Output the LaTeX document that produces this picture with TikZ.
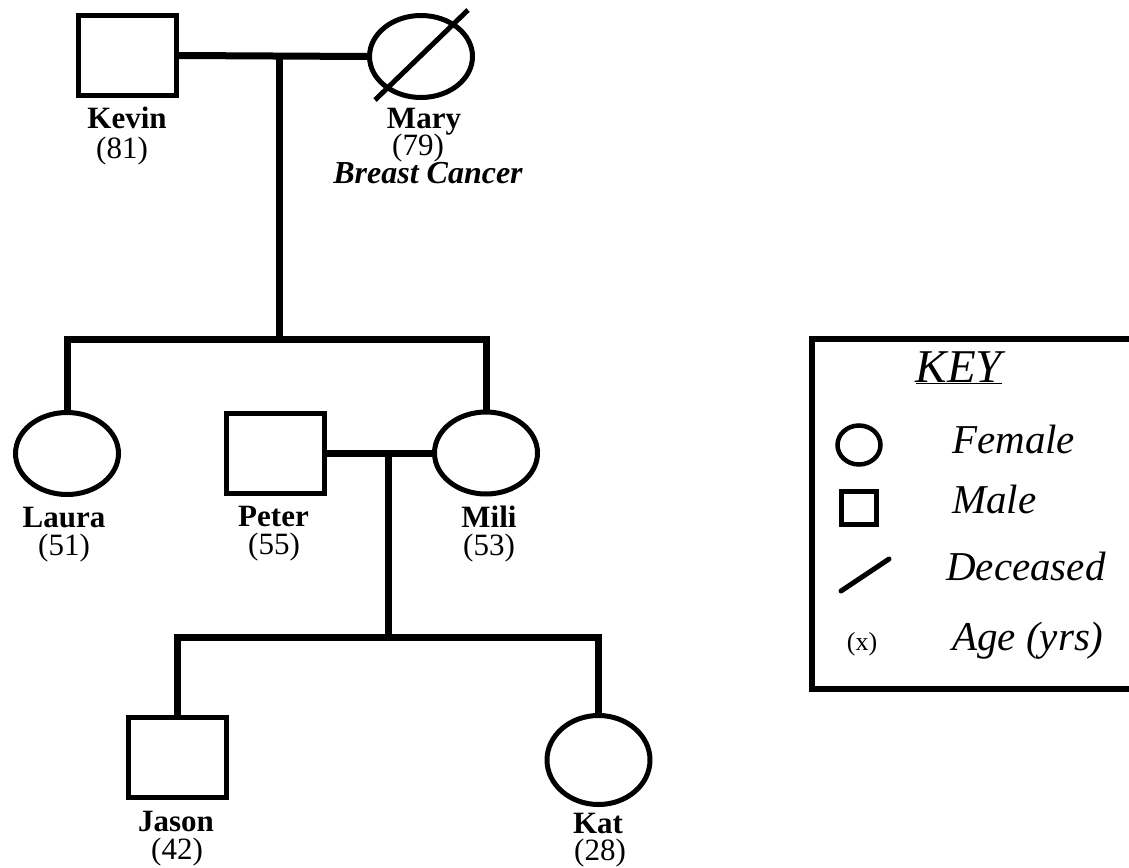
\documentclass[tikz,border=0pt]{standalone}
\usepackage{fontspec}
\setmainfont{Liberation Serif}
\usetikzlibrary{shapes.geometric}

\newcommand*{\namesize}{\fontsize{31}{31}\selectfont}
\newcommand*{\keysize}{\fontsize{41}{41}\selectfont}

\tikzset{
	male/.style={draw,rectangle,line width=5pt,minimum width=98pt,minimum height=80pt,inner sep=0pt},
	female/.style={draw,ellipse,line width=5pt,minimum width=103pt,minimum height=82pt,inner sep=0pt},
	bond/.style={line width=7pt},
	personname/.style={anchor=base,font=\namesize\bfseries,inner sep=0pt},
	personage/.style={anchor=base,font=\namesize,inner sep=0pt},
	keytext/.style={anchor=base west,font=\keysize\itshape,inner sep=0pt},
}

\begin{document}
\begin{tikzpicture}[x=1pt,y=-1pt]

	\fill[white,use as bounding box] (0,0) rectangle (1129,867);

	% grandparents
	\node[male] (kevin) at (127,55.5) {};
	\node[female] (mary) at (421,56.5) {};
	\draw[line width=5pt] (375,100) -- (468,10);

	\node[personname] (kevinname) at (127,128) {Kevin};
	\node[personage] (kevinage) at (122,158) {(81)};
	\node[personname] (maryname) at (424,128) {Mary};
	\node[personage] (maryage) at (418,155) {(79)};
	\node[anchor=base,inner sep=0pt,font=\fontsize{32}{32}\selectfont\bfseries\itshape] (maryinfo) at (428,183) {Breast Cancer};

	% children
	\node[female] (laura) at (67,453.5) {};
	\node[male] (peter) at (275.5,453) {};
	\node[female] (mili) at (486,453) {};

	\node[personname] (lauraname) at (64,527) {Laura};
	\node[personage] (lauraage) at (64,555.5) {(51)};
	\node[personname] (petername) at (273.5,526) {Peter};
	\node[personage] (peterage) at (274,554) {(55)};
	\node[personname] (miliname) at (489,527) {Mili};
	\node[personage] (miliage) at (489,555) {(53)};

	% grandchildren
	\node[male] (jason) at (177,757) {};
	\node[female,minimum height=89pt] (kat) at (598.5,760) {};

	\node[personname] (jasonname) at (176,831) {Jason};
	\node[personage] (jasonage) at (177,859) {(42)};
	\node[personname] (katname) at (598,833) {Kat};
	\node[personage] (katage) at (600,860) {(28)};

	% lines of descent
	\coordinate (km) at (279,55.5);
	\coordinate (kmsibs) at (279,339);
	\coordinate (pm) at (388.5,453);
	\coordinate (pmsibs) at (388.5,637);

	\draw[bond] (kevin.east) -- (mary.west);
	\draw[bond] (km) -- (kmsibs);
	\draw[bond] (laura.north) -- (laura.north |- kmsibs) -- (mili.north |- kmsibs) -- (mili.north);

	\draw[bond] (peter.east) -- (mili.west);
	\draw[bond] (pm) -- (pmsibs);
	\draw[bond] (jason.north) -- (jason.north |- pmsibs) -- (kat.north |- pmsibs) -- (kat.north);

	% key
	\draw[line width=6pt] (812,339) rectangle (1145,689);
	\node[anchor=base,inner sep=0pt,font=\fontsize{47}{47}\selectfont\itshape] (keytitle) at (959,382) {\underline{KEY}};

	\node[draw,ellipse,line width=4.5pt,minimum width=43pt,minimum height=39pt,inner sep=0pt] (keyfemale) at (859,445) {};
	\node[draw,rectangle,line width=5pt,minimum width=35pt,minimum height=33pt,inner sep=0pt] (keymale) at (859,508) {};
	\draw[line width=5pt,line cap=round] (841,591) -- (889,559);
	\node[anchor=base,inner sep=0pt,font=\fontsize{26}{26}\selectfont] (keyage) at (862,650) {(x)};

	\node[keytext] (femaletext) at (952,453) {Female};
	\node[keytext] (maletext) at (952,513) {Male};
	\node[keytext] (deceasedtext) at (946,580) {Deceased};
	\node[keytext] (agetext) at (952,650) {Age (yrs)};

\end{tikzpicture}
\end{document}
